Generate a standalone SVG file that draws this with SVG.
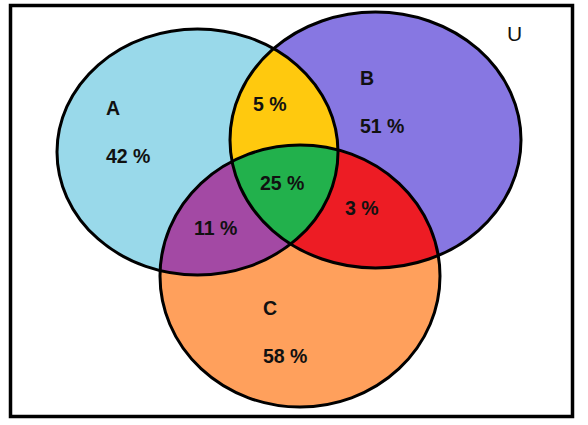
<svg xmlns="http://www.w3.org/2000/svg" width="588" height="425" viewBox="0 0 588 425">
<defs>
<style>
.lbl{font-family:"Liberation Sans",Arial,sans-serif;font-weight:bold;font-size:19.5px;fill:#111}
.u{font-family:"Liberation Sans",Arial,sans-serif;font-size:21px;fill:#111}
.edge{fill:none;stroke:#000;stroke-width:3}
</style>
<clipPath id="clipA"><ellipse cx="197.5" cy="152" rx="140.5" ry="123"/></clipPath>
<clipPath id="clipB"><ellipse cx="375.5" cy="140" rx="145.5" ry="128"/></clipPath>
<ellipse id="shapeC" cx="300" cy="276" rx="140" ry="131"/>
</defs>
<rect x="0" y="0" width="588" height="425" fill="#fff"/>
<rect x="10.5" y="5.5" width="562" height="411" fill="none" stroke="#000" stroke-width="3.5"/>
<g id="setA"><ellipse cx="197.5" cy="152" rx="140.5" ry="123" fill="#99D9EA"/></g>
<g id="setB"><ellipse cx="375.5" cy="140" rx="145.5" ry="128" fill="#8777E2"/></g>
<g id="setC"><ellipse cx="300" cy="276" rx="140" ry="131" fill="#FFA05C"/></g>
<g id="AB" clip-path="url(#clipA)"><ellipse cx="375.5" cy="140" rx="145.5" ry="128" fill="#FFC90E"/></g>
<g id="AC" clip-path="url(#clipA)"><use href="#shapeC" fill="#A349A4"/></g>
<g id="BC" clip-path="url(#clipB)"><use href="#shapeC" fill="#ED1C24"/></g>
<g id="ABC" clip-path="url(#clipA)"><g clip-path="url(#clipB)"><use href="#shapeC" fill="#22B14C"/></g></g>
<g id="outlines">
<ellipse class="edge" cx="197.5" cy="152" rx="140.5" ry="123"/>
<ellipse class="edge" cx="375.5" cy="140" rx="145.5" ry="128"/>
<ellipse class="edge" cx="300" cy="276" rx="140" ry="131"/>
</g>
<g id="labels">
<text class="u" x="507" y="41">U</text>
<text class="lbl" x="106" y="115">A</text>
<text class="lbl" x="106" y="163">42 %</text>
<text class="lbl" x="253" y="111">5 %</text>
<text class="lbl" x="360" y="85">B</text>
<text class="lbl" x="360" y="133">51 %</text>
<text class="lbl" x="260" y="190">25 %</text>
<text class="lbl" x="345" y="215">3 %</text>
<text class="lbl" x="194" y="235">11 %</text>
<text class="lbl" x="263" y="315">C</text>
<text class="lbl" x="263" y="363">58 %</text>
</g>
</svg>
